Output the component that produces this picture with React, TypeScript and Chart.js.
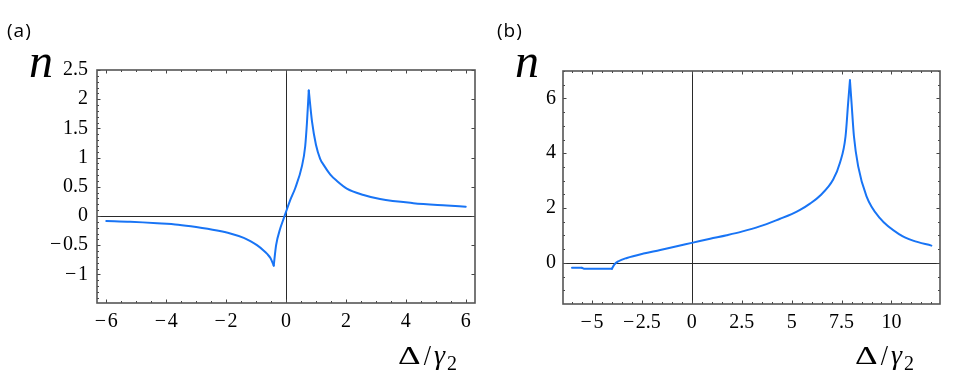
import React, { useEffect, useRef } from "react";
import { Chart, registerables } from "chart.js";

Chart.register(...registerables);
Chart.defaults.font.family = "'Liberation Serif', 'Times New Roman', serif";
Chart.defaults.font.size = 20;
Chart.defaults.color = "#000";

// ---------- Panel (a) data ----------
const panelAX = [
  -6.0, -5.2, -4.3, -3.6, -3.0, -2.3, -1.86, -1.41, -1.19, -0.97, -0.75, -0.63, -0.52, -0.41,
  -0.33, -0.19, -0.13, -0.02, 0.14, 0.31, 0.53, 0.64, 0.7, 0.76, 0.87, 1.0, 1.14, 1.25, 1.48,
  1.7, 2.03, 2.59, 3.14, 4.25, 5.37, 6.0,
];
const panelAY = [
  -0.086, -0.1, -0.125, -0.15, -0.19, -0.25, -0.3, -0.375, -0.43, -0.5, -0.59, -0.65, -0.72, -0.85,
  -0.5, -0.21, -0.12, 0.04, 0.27, 0.48, 0.85, 1.19, 1.6, 2.15, 1.61, 1.22, 0.98, 0.88, 0.71,
  0.6, 0.47, 0.36, 0.29, 0.22, 0.18, 0.16,
];
// indices where the curve has a cusp (branches join there)
const panelACusps = [13, 23];
const ticksAX = [-6, -4, -2, 0, 2, 4, 6];
const ticksAY = [-1, -0.5, 0, 0.5, 1, 1.5, 2, 2.5];

// ---------- Panel (b) data ----------
const panelBX = [
  -6.0, -5.5, -5.4, -4.0, -3.88, -3.67, -3.25, -2.42, -1.58, -0.75, 0, 0.92, 1.75, 2.5, 3.4,
  4.42, 5.0, 5.42, 5.92, 6.42, 7.08, 7.42, 7.7, 7.83, 7.92, 8.0, 8.12, 8.33, 8.75, 9.42, 10.42,
  11.08, 12.0,
];
const panelBY = [
  -0.18, -0.18, -0.21, -0.21, -0.06, 0.06, 0.18, 0.34, 0.47, 0.61, 0.73, 0.88, 1.01, 1.14, 1.33,
  1.61, 1.78, 1.93, 2.16, 2.45, 3.04, 3.65, 4.62, 5.84, 6.66, 5.84, 4.62, 3.53, 2.43, 1.63, 1.03,
  0.81, 0.63,
];
const panelBCusps = [1, 3, 24];
const ticksBX = [-5, -2.5, 0, 2.5, 5, 7.5, 10];
const ticksBY = [0, 2, 4, 6];

const CURVE = "#1874f5";
const SERIF = "Liberation Serif";
const TICK_FONT = { family: "'Liberation Serif', 'Times New Roman', serif", size: 20, style: "normal" as const };

const fmt = (v: number) => {
  const s = String(Math.abs(v));
  return v < 0 ? "\u2212\u200A" + s : s;
};

const range = (a: number, b: number, step: number) => {
  const out: number[] = [];
  const n = Math.round((b - a) / step);
  for (let i = 0; i <= n; i++) out.push(+(a + i * step).toFixed(4));
  return out;
};

const framePlugin = {
  id: "mmaFrame",
  beforeDatasetsDraw(chart: any) {
    const { ctx, chartArea: a, scales } = chart;
    const x = scales.x;
    const y = scales.y;
    ctx.save();
    ctx.strokeStyle = "#2a2a2a";
    ctx.lineWidth = 1;
    const x0 = Math.round(x.getPixelForValue(0)) + 0.5;
    const y0 = Math.round(y.getPixelForValue(0)) + 0.5;
    ctx.beginPath();
    ctx.moveTo(x0, a.top);
    ctx.lineTo(x0, a.bottom);
    ctx.moveTo(a.left, y0);
    ctx.lineTo(a.right, y0);
    ctx.stroke();
    ctx.restore();
  },
  afterDraw(chart: any, _args: any, opts: any) {
    const { ctx, chartArea: a, scales } = chart;
    const x = scales.x;
    const y = scales.y;
    ctx.save();
    ctx.strokeStyle = "#444";
    ctx.lineWidth = 1;
    const drawX = (vals: number[], len: number) => {
      ctx.beginPath();
      vals.forEach((v) => {
        const p = Math.round(x.getPixelForValue(v)) + 0.5;
        if (p < a.left || p > a.right) return;
        ctx.moveTo(p, a.bottom);
        ctx.lineTo(p, a.bottom - len);
        ctx.moveTo(p, a.top);
        ctx.lineTo(p, a.top + len);
      });
      ctx.stroke();
    };
    const drawY = (vals: number[], len: number, left: boolean, right: boolean) => {
      ctx.beginPath();
      vals.forEach((v) => {
        const p = Math.round(y.getPixelForValue(v)) + 0.5;
        if (p < a.top || p > a.bottom) return;
        if (left) {
          ctx.moveTo(a.left, p);
          ctx.lineTo(a.left + len, p);
        }
        if (right) {
          ctx.moveTo(a.right, p);
          ctx.lineTo(a.right - len, p);
        }
      });
      ctx.stroke();
    };
    drawX(opts.xMinor, 2);
    drawX(opts.xMajor, 3.5);
    drawY(opts.yMinorLeft, 2, true, false);
    drawY(opts.yMinorRight, 2, false, true);
    drawY(opts.yMajor, 3.5, true, true);
    ctx.strokeStyle = "#555";
    ctx.lineWidth = 1.6;
    ctx.strokeRect(a.left, a.top, a.right - a.left, a.bottom - a.top);
    ctx.restore();
  },
};

type PanelProps = {
  xs: number[];
  ys: number[];
  cusps: number[];
  xTicks: number[];
  yTicks: number[];
  xMin: number;
  xMax: number;
  yMin: number;
  yMax: number;
  yWidth: number;
  xHeight: number;
  padTop: number;
  padRight: number;
  yPad: number;
  xPad: number;
  frame: any;
};

function Panel(p: PanelProps) {
  const ref = useRef<HTMLCanvasElement | null>(null);
  useEffect(() => {
    if (!ref.current) return;
    const pts = p.xs.map((x, i) => ({ x, y: p.ys[i] }));
    // split into monotone branches that meet at the cusps
    const bounds = [0, ...p.cusps, pts.length - 1];
    const datasets = [];
    for (let k = 0; k < bounds.length - 1; k++) {
      datasets.push({
        data: pts.slice(bounds[k], bounds[k + 1] + 1),
        showLine: true,
        borderColor: CURVE,
        borderWidth: 2,
        pointRadius: 0,
        cubicInterpolationMode: "monotone",
        borderJoinStyle: "round",
        borderCapStyle: "round",
        fill: false,
      });
    }
    const chart = new Chart(ref.current, {
      type: "scatter",
      data: { datasets },
      options: {
        animation: false,
        responsive: false,
        layout: { padding: { left: 0, right: p.padRight, top: p.padTop, bottom: 0 } },
        plugins: {
          legend: { display: false },
          tooltip: { enabled: false },
          mmaFrame: p.frame,
        } as any,
        scales: {
          x: {
            type: "linear",
            min: p.xMin,
            max: p.xMax,
            afterBuildTicks: (s: any) => {
              s.ticks = p.xTicks.map((v) => ({ value: v }));
            },
            afterFit: (s: any) => {
              s.height = p.xHeight;
            },
            ticks: {
              callback: (v: any) => fmt(Number(v)),
              font: TICK_FONT,
              color: "#000",
              padding: p.xPad,
              maxRotation: 0,
              autoSkip: false,
            },
            grid: { display: false, drawTicks: false },
            border: { display: false },
          },
          y: {
            type: "linear",
            min: p.yMin,
            max: p.yMax,
            afterBuildTicks: (s: any) => {
              s.ticks = p.yTicks.map((v) => ({ value: v }));
            },
            afterFit: (s: any) => {
              s.width = p.yWidth;
            },
            ticks: {
              callback: (v: any) => fmt(Number(v)),
              font: TICK_FONT,
              color: "#000",
              padding: p.yPad,
              autoSkip: false,
            },
            grid: { display: false, drawTicks: false },
            border: { display: false },
          },
        },
      } as any,
      plugins: [framePlugin as any],
    });
    return () => chart.destroy();
  }, []);
  return <canvas ref={ref} width={480} height={378} style={{ width: 480, height: 378, display: "block" }} />;
}

function AxisLabels({ nLeft, dLeft, tag, tagLeft }: { nLeft: number; dLeft: number; tag: string; tagLeft: number }) {
  return (
    <>
      <div
        style={{
          position: "absolute",
          left: tagLeft,
          top: 21,
          fontFamily: "Open Sans",
          fontSize: 19,
          lineHeight: 1,
          letterSpacing: 1,
          color: "#000",
        }}
      >
        {tag}
      </div>
      <div
        style={{
          position: "absolute",
          left: nLeft,
          top: 37,
          fontFamily: SERIF,
          fontStyle: "italic",
          fontSize: 48,
          lineHeight: 1,
          color: "#000",
        }}
      >
        n
      </div>
      <div
        style={{
          position: "absolute",
          left: dLeft,
          top: 341,
          fontFamily: SERIF,
          fontSize: 26,
          lineHeight: 1,
          whiteSpace: "nowrap",
          color: "#000",
        }}
      >
        <span style={{ display: "inline-block", transform: "scaleX(1.35)", transformOrigin: "left", marginRight: 9 }}>Δ</span>
        <span style={{ display: "inline-block", transform: "scaleY(1.15)" }}>/</span>
        <span style={{ fontStyle: "italic", marginLeft: 3, fontSize: 28 }}>γ</span>
        <sub style={{ fontSize: 20, lineHeight: 1, marginLeft: 2 }}>2</sub>
      </div>
    </>
  );
}

export default function App() {
  return (
    <div style={{ position: "absolute", left: 0, top: 0, width: 960, height: 378, background: "#fff", overflow: "hidden" }}>
      <div style={{ position: "absolute", left: 0, top: 0, width: 480, height: 378 }}>
        <Panel
          xs={panelAX}
          ys={panelAY}
          cusps={panelACusps}
          xTicks={ticksAX}
          yTicks={ticksAY}
          xMin={-6.31}
          xMax={6.31}
          yMin={-1.49}
          yMax={2.5}
          yWidth={97}
          xHeight={75}
          padTop={70}
          padRight={5}
          yPad={9}
          xPad={7}
          frame={{
            xMinor: range(-6, 6, 0.5),
            xMajor: ticksAX,
            yMinorLeft: range(-1.4, 2.5, 0.1),
            yMinorRight: [],
            yMajor: ticksAY,
          }}
        />
      </div>
      <div style={{ position: "absolute", left: 480, top: 0, width: 480, height: 378 }}>
        <Panel
          xs={panelBX}
          ys={panelBY}
          cusps={panelBCusps}
          xTicks={ticksBX}
          yTicks={ticksBY}
          xMin={-6.45}
          xMax={12.43}
          yMin={-1.5}
          yMax={7.0}
          yWidth={83}
          xHeight={74}
          padTop={71}
          padRight={20}
          yPad={7}
          xPad={7}
          frame={{
            xMinor: range(-6, 12, 0.5),
            xMajor: ticksBX,
            yMinorLeft: range(-1.5, 7, 0.5),
            yMinorRight: range(-1.5, 7, 0.5),
            yMajor: ticksBY,
          }}
        />
      </div>
      <AxisLabels nLeft={29} dLeft={398} tag="(a)" tagLeft={7} />
      <AxisLabels nLeft={515} dLeft={855} tag="(b)" tagLeft={497} />
    </div>
  );
}
